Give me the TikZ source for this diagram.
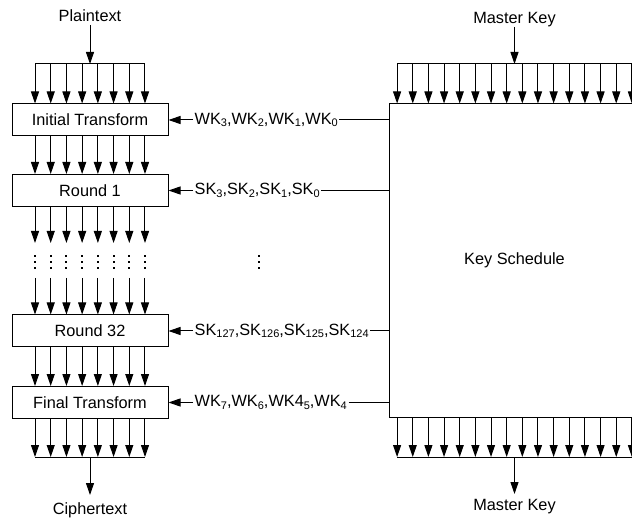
\documentclass[tikz,border=0pt]{standalone}
\usepackage{fontspec}
\setmainfont{Liberation Sans}
\usetikzlibrary{arrows.meta,calc}
\newcommand\ksub[1]{\raisebox{-0.3ex}{\fontsize{11}{11}\selectfont #1}}
\begin{document}
\begin{tikzpicture}[x=1pt,y=-1pt,
  font=\fontsize{16.3}{19}\selectfont,
  ln/.style={line width=1pt},
  arr/.style={ln,-{Triangle[width=8pt,length=12pt]}},
  blk/.style={draw,ln,minimum width=156pt,minimum height=32pt,inner sep=0pt},
  lbl/.style={inner xsep=1.5pt,inner ysep=0pt,anchor=west},
  dotsq/.style={fill=black,minimum size=2pt,inner sep=0pt}]
\clip (0,0) rectangle (632,521);
% left column
\node[anchor=south,inner ysep=3pt] (pt) at (90,25) {Plaintext};
\node[blk] (init) at (90,120) {Initial Transform};
\node[blk] (r1) at (90,190.5) {Round 1};
\node[blk] (r32) at (90,331) {Round 32};
\node[blk] (fin) at (90,402.5) {Final Transform};
\node[anchor=north,inner ysep=7pt] (ct) at (90,495) {Ciphertext};
\coordinate (tbar) at (90,64);
\coordinate (bbar) at (90,457);
\coordinate (gap1) at (90,243);
\coordinate (gap2) at (90,278);
\draw[arr] (pt.south) -- (tbar);
\draw[ln] ([xshift=-55pt]tbar) -- ([xshift=55pt]tbar);
\draw[ln] ([xshift=-55pt]bbar) -- ([xshift=55pt]bbar);
\draw[arr] (bbar) -- (ct.north);
\foreach \k in {0,...,7}{
  \pgfmathsetmacro\dx{-55+15.714*\k}
  \draw[arr] ([xshift=\dx pt]tbar) -- ([xshift=\dx pt]init.north);
  \draw[arr] ([xshift=\dx pt]init.south) -- ([xshift=\dx pt]r1.north);
  \draw[arr] ([xshift=\dx pt]r1.south) -- ([xshift=\dx pt]gap1);
  \draw[arr] ([xshift=\dx pt]gap2) -- ([xshift=\dx pt]r32.north);
  \draw[arr] ([xshift=\dx pt]r32.south) -- ([xshift=\dx pt]fin.north);
  \draw[arr] ([xshift=\dx pt]fin.south) -- ([xshift=\dx pt]bbar);
  \foreach \yy in {256,262,268}{
    \node[dotsq] at (90+\dx,\yy) {};
  }
}
\foreach \yy in {256,262,268}{
  \node[dotsq] at (259,\yy) {};
}
% key schedule
\node[draw,ln,minimum width=250.8pt,minimum height=313pt,inner sep=0pt] (ks) at (514.5,260.5) {Key Schedule};
\node[anchor=south,inner ysep=0pt] (mk1) at (514.5,27) {Master Key};
\node[anchor=north,inner ysep=5pt] (mk2) at (514.5,494) {Master Key};
\coordinate (ktbar) at (514.5,64);
\coordinate (kbbar) at (514.5,457);
\draw[arr] (mk1.south) -- (ktbar);
\draw[ln] ([xshift=-117.4pt]ktbar) -- ([xshift=117.4pt]ktbar);
\draw[ln] ([xshift=-117.4pt]kbbar) -- ([xshift=117.4pt]kbbar);
\draw[arr] (kbbar) -- (mk2.north);
\foreach \k in {0,...,15}{
  \pgfmathsetmacro\dx{-117.4+15.653*\k}
  \draw[arr] ([xshift=\dx pt]ktbar) -- ([xshift=\dx pt]ks.north);
  \draw[arr] ([xshift=\dx pt]ks.south) -- ([xshift=\dx pt]kbbar);
}
% subkey labels
\node[lbl] (l1) at (193,120) {WK\ksub{3},WK\ksub{2},WK\ksub{1},WK\ksub{0}};
\node[lbl] (l2) at (193,190.5) {SK\ksub{3},SK\ksub{2},SK\ksub{1},SK\ksub{0}};
\node[lbl] (l3) at (193,331) {SK\ksub{127},SK\ksub{126},SK\ksub{125},SK\ksub{124}};
\node[lbl] (l4) at (193,402.5) {WK\ksub{7},WK\ksub{6},WK4\ksub{5},WK\ksub{4}};
\draw[arr] (l1.west) -- (init.east);
\draw[arr] (l2.west) -- (r1.east);
\draw[arr] (l3.west) -- (r32.east);
\draw[arr] (l4.west) -- (fin.east);
\draw[ln] (l1.east) -- (l1.east -| ks.west);
\draw[ln] (l2.east) -- (l2.east -| ks.west);
\draw[ln] (l3.east) -- (l3.east -| ks.west);
\draw[ln] (l4.east) -- (l4.east -| ks.west);
\end{tikzpicture}
\end{document}
